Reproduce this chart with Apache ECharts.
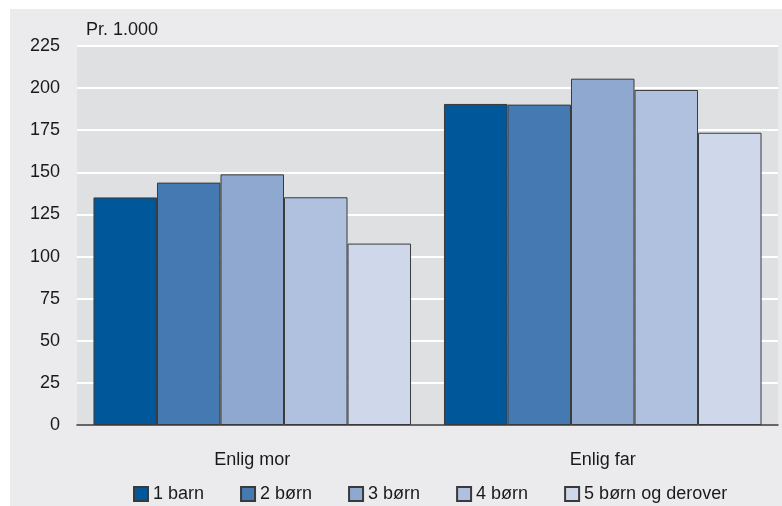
<!DOCTYPE html>
<html>
<head>
<meta charset="utf-8">
<script src="https://cdn.jsdelivr.net/npm/echarts@6/dist/echarts.min.js"></script>
<style>
html,body{margin:0;padding:0;background:#ffffff;}
#chart{width:782px;height:506px;}
</style>
</head>
<body>
<div id="chart"></div>
<script>
const categories = ['Enlig mor', 'Enlig far'];
const seriesNames = ['1 barn', '2 børn', '3 børn', '4 børn', '5 børn og derover'];
const barn1 = [135.1, 190.6];
const born2 = [143.9, 190.2];
const born3 = [148.8, 205.6];
const born4 = [135.2, 198.9];
const born5 = [107.7, 173.5];
const seriesValues = [barn1, born2, born3, born4, born5];
const colors = ['#00589a', '#4479b2', '#8fa8cf', '#b0c1df', '#cfd8eb'];

const font = '"Liberation Sans", Arial, sans-serif';
const chart = echarts.init(document.getElementById('chart'), null, {renderer: 'canvas'});
chart.setOption({
  animation: false,
  backgroundColor: '#ffffff',
  textStyle: {fontFamily: font},
  graphic: [{
    type: 'rect', z: -10, silent: true,
    shape: {x: 10, y: 9, width: 772, height: 497},
    style: {fill: '#ebebed'}
  }, {
    type: 'text', left: 86, top: 21,
    style: {text: 'Pr. 1.000', fontSize: 18, fontFamily: font, fill: '#1a1a1a'}
  }],
  grid: {
    left: 77, right: 4, top: 46, bottom: 81,
    show: true, backgroundColor: '#dfe0e2', borderWidth: 0
  },
  legend: {
    top: 480, left: 128,
    itemWidth: 14, itemHeight: 14, itemGap: 36,
    textStyle: {fontSize: 18, color: '#1a1a1a', fontFamily: font},
    icon: 'rect',
    data: seriesNames
  },
  xAxis: {
    type: 'category', data: categories,
    axisLine: {show: true, lineStyle: {color: '#333333', width: 1.5}},
    axisTick: {show: false},
    axisLabel: {fontSize: 18, color: '#1a1a1a', margin: 26, fontFamily: font},
    splitLine: {show: false}
  },
  yAxis: {
    type: 'value', min: 0, max: 225, interval: 25,
    axisLine: {show: false}, axisTick: {show: false},
    axisLabel: {fontSize: 18, color: '#1a1a1a', margin: 17, fontFamily: font},
    splitLine: {show: true, lineStyle: {color: '#ffffff', width: 2}}
  },
  series: seriesNames.map((n, i) => ({
    name: n, type: 'bar', data: seriesValues[i],
    barGap: '0%', barCategoryGap: '9.4%',
    itemStyle: {color: colors[i], borderColor: '#3a3a3a', borderWidth: 1}
  }))
});
</script>
</body>
</html>
